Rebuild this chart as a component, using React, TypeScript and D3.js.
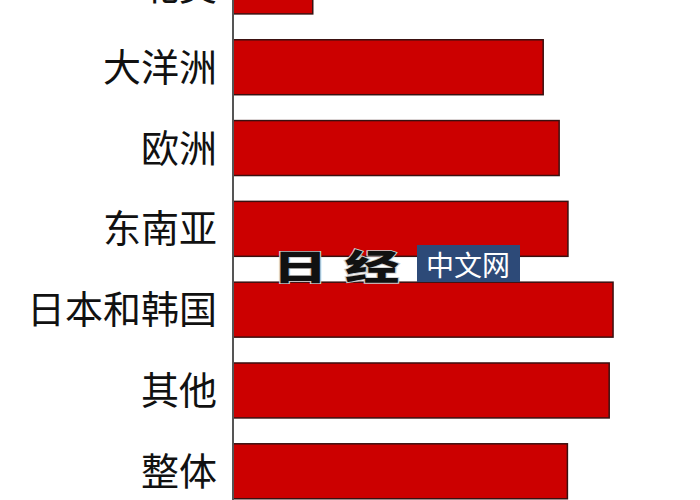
import React, { useRef, useEffect } from 'react';
import * as d3 from 'd3';

const regions = ['北美', '大洋洲', '欧洲', '东南亚', '日本和韩国', '其他', '整体'];
const shares = [14.5, 56.4, 59.3, 60.9, 69.1, 68.4, 60.8];

const W = 700;
const H = 500;

const App: React.FC = () => {
  const ref = useRef<SVGSVGElement | null>(null);

  useEffect(() => {
    if (!ref.current) return;
    const svg = d3.select(ref.current);
    svg.selectAll('*').remove();

    const x = d3.scaleLinear().domain([0, 100]).range([233, 783]);
    const y = d3
      .scaleBand<string>()
      .domain(regions)
      .range([-66.9, 524.6])
      .padding(0.32);

    svg.append('rect').attr('width', W).attr('height', H).attr('fill', '#fff');

    const data = regions.map((r, i) => ({ region: r, value: shares[i] }));

    // bars
    svg
      .selectAll('rect.bar')
      .data(data)
      .enter()
      .append('rect')
      .attr('class', 'bar')
      .attr('x', x(0))
      .attr('y', (d) => y(d.region) as number)
      .attr('width', (d) => x(d.value) - x(0))
      .attr('height', y.bandwidth())
      .attr('fill', '#cc0000')
      .attr('stroke', '#3a1010')
      .attr('stroke-width', 1.5);

    // category labels
    svg
      .selectAll('text.lbl')
      .data(data)
      .enter()
      .append('text')
      .attr('class', 'lbl')
      .attr('x', 217)
      .attr('y', (d) => (y(d.region) as number) + y.bandwidth() / 2 - 3)
      .attr('text-anchor', 'end')
      .attr('dominant-baseline', 'central')
      .attr('font-family', '"Noto Sans CJK SC", sans-serif')
      .attr('font-size', 38)
      .attr('fill', '#111')
      .text((d) => d.region);

    // axis line
    svg
      .append('line')
      .attr('x1', x(0))
      .attr('x2', x(0))
      .attr('y1', 0)
      .attr('y2', H)
      .attr('stroke', '#555')
      .attr('stroke-width', 2);

    // watermark
    const wm = svg.append('g');
    wm.selectAll('text.logo')
      .data([
        { ch: '日', cx: 300 },
        { ch: '经', cx: 372 },
      ])
      .enter()
      .append('text')
      .attr('class', 'logo')
      .attr('x', (d) => d.cx)
      .attr('y', 265)
      .attr('text-anchor', 'middle')
      .attr('dominant-baseline', 'central')
      .attr('font-family', '"Noto Sans CJK SC", sans-serif')
      .attr('font-weight', 900)
      .attr('font-size', 42)
      .attr('fill', '#111')
      .attr('stroke', '#ccc')
      .attr('stroke-width', 2)
      .attr('paint-order', 'stroke')
      .attr('transform', (d) => `translate(${d.cx},265) scale(1.3,0.85) translate(${-d.cx},-265)`)
      .text((d) => d.ch);
    wm.append('rect')
      .attr('x', 417)
      .attr('y', 245)
      .attr('width', 103)
      .attr('height', 37)
      .attr('fill', '#2d4a78');
    wm.append('text')
      .attr('x', 468)
      .attr('y', 264)
      .attr('text-anchor', 'middle')
      .attr('dominant-baseline', 'central')
      .attr('font-family', '"Noto Sans CJK SC", sans-serif')
      .attr('font-size', 28)
      .attr('fill', '#fff')
      .text('中文网');
  }, []);

  return (
    <svg
      ref={ref}
      width={W}
      height={H}
      style={{ position: 'absolute', left: 0, top: 0, display: 'block' }}
    />
  );
};

export default App;
